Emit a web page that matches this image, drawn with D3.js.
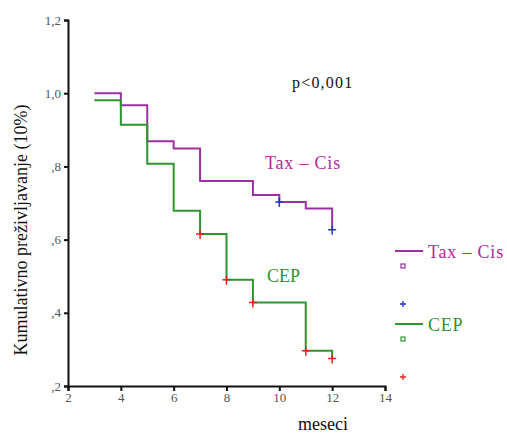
<!DOCTYPE html>
<html>
<head>
<meta charset="utf-8">
<script src="https://cdn.jsdelivr.net/npm/d3@7"></script>
<style>
  body { margin: 0; background: #fff; }
  text { font-family: "Liberation Serif", "Times New Roman", serif; }
</style>
</head>
<body>
<svg id="chart" width="507" height="434"></svg>
<script>
// Kaplan-Meier steps: [month, cumulative survival]
const taxCis = [[3, 1.0], [4, 0.967], [5, 0.869], [6, 0.849], [7, 0.76], [9, 0.722], [10, 0.703], [11, 0.685], [12, 0.627]];
const cep = [[3, 0.981], [4, 0.914], [5, 0.807], [6, 0.679], [7, 0.615], [8, 0.490], [9, 0.428], [11, 0.296], [12, 0.275]];
const taxCisCensored = [[10, 0.703], [12, 0.627]];
const cepCensored = [[7, 0.615], [8, 0.490], [9, 0.428], [11, 0.296], [12, 0.275]];
const xTicks = [2, 4, 6, 8, 10, 12, 14];
const yTicks = [0.2, 0.4, 0.6, 0.8, 1.0, 1.2];
const yTickLabels = [",2", ",4", ",6", ",8", "1,0", "1,2"];

const purple = "#9b30a3";
const green = "#2f952f";

const svg = d3.select("#chart");
const x = d3.scaleLinear().domain([2, 14]).range([68, 385]);
const y = d3.scaleLinear().domain([0.2, 1.2]).range([386, 20]);

// Axes
const xAxis = svg.append("g").attr("transform", "translate(0,386)")
    .call(d3.axisBottom(x).tickValues(xTicks).tickSize(5).tickPadding(2).tickFormat(d3.format("d")));
const yAxis = svg.append("g").attr("transform", "translate(68,0)")
    .call(d3.axisLeft(y).tickValues(yTicks).tickSize(4).tickPadding(3)
        .tickFormat((d, i) => yTickLabels[i]));
[xAxis, yAxis].forEach(a => {
    a.select(".domain").attr("stroke", "#111").attr("stroke-width", 2);
    a.selectAll(".tick line").attr("stroke", "#111").attr("stroke-width", 2);
    a.selectAll(".tick text").attr("font-family", "Liberation Serif, serif")
        .attr("font-size", 13).attr("fill", "#555");
});

// Step curves
const line = d3.line().x(d => x(d[0])).y(d => y(d[1])).curve(d3.curveStepAfter);
svg.append("path").datum(taxCis).attr("d", line)
    .attr("fill", "none").attr("stroke", purple).attr("stroke-width", 2);
svg.append("path").datum(cep).attr("d", line)
    .attr("fill", "none").attr("stroke", green).attr("stroke-width", 2);

// Censor marks
function plus(sel, data, color) {
    sel.selectAll(null).data(data).join("path")
        .attr("d", d => `M${x(d[0]) - 4},${y(d[1])}h8M${x(d[0])},${y(d[1]) - 4}v9`)
        .attr("stroke", color).attr("stroke-width", 1.5).attr("fill", "none");
}
plus(svg.append("g"), taxCisCensored, "#2030e0");
plus(svg.append("g"), cepCensored, "#e52020");

// Annotations
svg.append("text").attr("x", 292).attr("y", 88).attr("font-size", 16).attr("letter-spacing", 1.2)
    .attr("fill", "#111").text("p<0,001");
svg.append("text").attr("x", 265).attr("y", 169).attr("font-size", 18).attr("letter-spacing", 0.8)
    .attr("fill", "#b52a9c").text("Tax – Cis");
svg.append("text").attr("x", 267).attr("y", 282).attr("font-size", 18).attr("fill", green).text("CEP");

// Axis titles
svg.append("text").attr("transform", "translate(27,230) rotate(-90)")
    .attr("text-anchor", "middle").attr("font-size", 18).attr("fill", "#111")
    .text("Kumulativno preživljavanje (10%)");
svg.append("text").attr("x", 323).attr("y", 430).attr("text-anchor", "middle")
    .attr("font-size", 18).attr("fill", "#111").text("meseci");

// Legend
const legend = svg.append("g");
const legendItems = [
    { label: "Tax – Cis", color: purple, text: "#b52a9c", y: 251, censor: "#2030e0" },
    { label: "CEP", color: green, text: green, y: 324, censor: "#e52020" }
];
legendItems.forEach(it => {
    legend.append("line").attr("x1", 395).attr("x2", 423).attr("y1", it.y).attr("y2", it.y)
        .attr("stroke", it.color).attr("stroke-width", 2);
    legend.append("text").attr("x", 428).attr("y", it.y + 7).attr("font-size", 18)
        .attr("letter-spacing", 0.8).attr("fill", it.text).text(it.label);
    legend.append("rect").attr("x", 401).attr("y", it.y + 13).attr("width", 4).attr("height", 4)
        .attr("fill", "none").attr("stroke", it.color).attr("stroke-width", 1.2);
    legend.append("path").attr("d", `M${400},${it.y + 53}h6M${403},${it.y + 50}v6`)
        .attr("stroke", it.censor).attr("stroke-width", 1.3);
});
</script>
</body>
</html>
